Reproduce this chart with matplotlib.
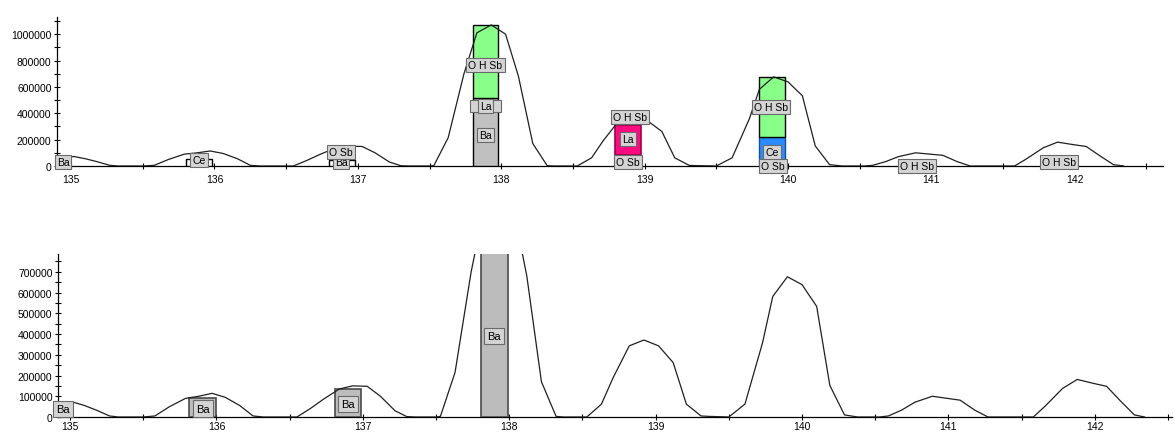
import matplotlib
matplotlib.use("Agg")
from matplotlib import pyplot as plt
from matplotlib import ticker
from matplotlib.patches import Rectangle

plt.rcParams['font.family'] = ['Liberation Sans', 'DejaVu Sans']

# SPECTRUM PROFILE (m/z, intensity)
spec_mz = [
    134.93, 135.02, 135.10, 135.18, 135.27, 135.33,
    135.50, 135.58, 135.68, 135.79, 135.88, 135.97, 136.06, 136.16, 136.25, 136.32,
    136.55, 136.64, 136.74, 136.84, 136.93, 137.03, 137.12, 137.22, 137.30, 137.36,
    137.50, 137.53, 137.63, 137.74, 137.83, 137.93, 138.03, 138.12, 138.22, 138.32, 138.37,
    138.53, 138.63, 138.71, 138.82, 138.92, 139.02, 139.12, 139.21, 139.31, 139.36,
    139.50, 139.61, 139.73, 139.80, 139.90, 140.00, 140.10, 140.19, 140.29, 140.38,
    140.53, 140.59, 140.68, 140.77, 140.89, 140.99, 141.08, 141.18, 141.27, 141.33,
    141.51, 141.58, 141.66, 141.78, 141.88, 141.99, 142.08, 142.17, 142.27, 142.34,
]
spec_int = [
    60000, 72000, 55000, 33000, 5000, 0,
    0, 5000, 50000, 90000, 100000, 114000, 95000, 55000, 5000, 0,
    0, 40000, 90000, 135000, 150000, 148000, 100000, 30000, 2000, 0,
    0, 3000, 215000, 700000, 1010000, 1070000, 1000000, 680000, 170000, 3000, 0,
    0, 62000, 190000, 343000, 371000, 343000, 262000, 62000, 5000, 3000,
    0, 62000, 357000, 581000, 676000, 638000, 533000, 152000, 10000, 0,
    0, 5000, 33000, 71000, 100000, 90000, 81000, 33000, 0, 0,
    0, 0, 52000, 138000, 181000, 162000, 148000, 81000, 10000, 0,
]

x_ticks = [135, 136, 137, 138, 139, 140, 141, 142]
x_tick_labels = ['135', '136', '137', '138', '139', '140', '141', '142']

# TOP PANEL: stacked fit segments
top_bar_mz = [135.89, 136.89, 137.89, 137.89, 138.885, 139.89, 139.89]
top_bar_lo = [0, 0, 0, 515000, 80000, 0, 220000]
top_bar_hi = [50000, 45000, 515000, 1072000, 310000, 220000, 674000]
top_bar_kind = ['none', 'none', 'Ba', 'O H Sb', 'La', 'Ce', 'O H Sb']

top_lab_text = ['Ba', 'Ce', 'Ba', 'O Sb', 'Ba', 'La', 'O H Sb',
                'O Sb', 'La', 'O H Sb', 'O Sb', 'Ce', 'O H Sb', 'O H Sb', 'O H Sb']
top_lab_mz = [134.944, 135.893, 136.883, 136.883, 137.89, 137.89, 137.89,
              138.884, 138.884, 138.90, 139.893, 139.89, 139.88, 140.90, 141.89]
top_lab_int = [30000, 45000, 30000, 106000, 235000, 455000, 765000,
               30000, 205000, 371000, 0, 106000, 447000, 0, 28000]

# BOTTOM PANEL: Ba only
bot_bar_mz = [134.90, 135.905, 136.90, 137.90]
bot_bar_hi = [71000, 90000, 133000, 1070000]
bot_lab_mz = [134.952, 135.908, 136.90, 137.896]
bot_lab_int = [38000, 40000, 62000, 390000]

# STYLES
kind_color = {'none': 'white', 'Ba': '#c0c0c0', 'O H Sb': '#88ff88',
              'La': '#ff0a80', 'Ce': '#2a8cff'}
kind_edge = {'none': 'black', 'Ba': 'black', 'O H Sb': 'black',
             'La': '#a0004a', 'Ce': '#1050a0'}
BAR_W = 0.18
TAG_FC = '#d4d4d4'
TAG_EC = '#6a6a6a'


def tag(ax, x, y, text, pad=0.2, fs=7.5):
    ax.text(x, y, text, ha='center', va='center', fontsize=fs, zorder=7,
            clip_on=False,
            bbox=dict(boxstyle='square,pad=%s' % pad, fc=TAG_FC,
                      ec=TAG_EC, lw=0.8))


def style_axis(ax, xlim, ylim, ymajor, yminor, xpad=3):
    ax.set_xlim(*xlim)
    ax.set_ylim(*ylim)
    for s in ['top', 'right']:
        ax.spines[s].set_visible(False)
    for s in ['left', 'bottom']:
        ax.spines[s].set_linewidth(0.9)
    ax.set_xticks(x_ticks)
    ax.set_xticklabels(x_tick_labels)
    ax.xaxis.set_minor_locator(ticker.FixedLocator([t + 0.5 for t in x_ticks]))
    ax.yaxis.set_major_locator(ticker.MultipleLocator(ymajor))
    ax.yaxis.set_minor_locator(ticker.MultipleLocator(yminor))
    ax.yaxis.set_major_formatter(ticker.FuncFormatter(lambda v, p: '%d' % v))
    ax.tick_params(which='both', direction='inout', width=0.8, labelsize=7.5)
    ax.tick_params(which='major', length=5)
    ax.tick_params(which='minor', length=4)
    ax.tick_params(axis='y', pad=1.5)
    ax.tick_params(axis='x', pad=xpad)
    ax.set_facecolor('white')


fig = plt.figure(figsize=(11.74, 4.35), dpi=100)
ax1 = fig.add_axes([0.0486, 0.6161, 0.9420, 0.3425])
ax2 = fig.add_axes([0.0494, 0.0391, 0.9489, 0.3747])

# top panel
for mz, lo, hi, kind in zip(top_bar_mz, top_bar_lo, top_bar_hi, top_bar_kind):
    ax1.bar(mz, hi - lo, bottom=lo, width=BAR_W, color=kind_color[kind],
            edgecolor=kind_edge[kind], linewidth=1.2 if kind == 'La' else 1.0, zorder=3)
ax1.plot(spec_mz, spec_int, color='#202020', lw=0.9, zorder=4)
# a wider tag hidden behind the La tag at 138
ax1.add_patch(Rectangle((137.89 - 0.11, 455000 - 45000), 0.22, 90000,
                        fc=TAG_FC, ec=TAG_EC, lw=0.8, zorder=6))
for t, x, y in zip(top_lab_text, top_lab_mz, top_lab_int):
    tag(ax1, x, y, t)
style_axis(ax1, (134.902, 142.615), (0, 1130000), 200000, 100000)

# bottom panel
ax2.bar(bot_bar_mz, bot_bar_hi, width=BAR_W, color='#bcbcbc',
        edgecolor='#4a4a4a', linewidth=1.2, zorder=3)
ax2.plot(spec_mz, spec_int, color='#202020', lw=0.9, zorder=4)
for x, y in zip(bot_lab_mz, bot_lab_int):
    tag(ax2, x, y, 'Ba', pad=0.3, fs=8)
style_axis(ax2, (134.918, 142.527), (0, 785700), 100000, 50000, xpad=0.5)

fig.savefig('out.png', dpi=100)
